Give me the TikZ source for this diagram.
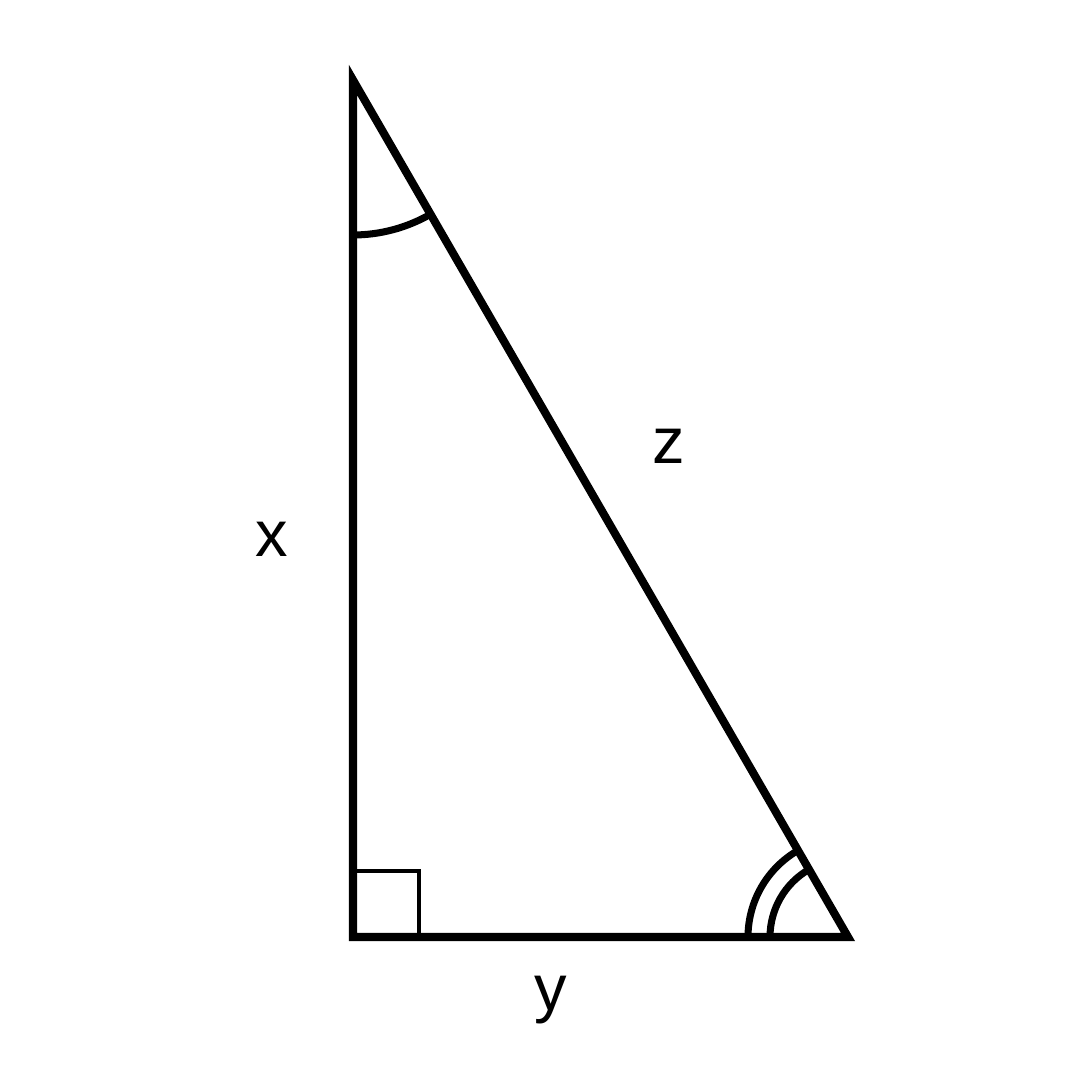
\documentclass[tikz,border=0pt]{standalone}
\usepackage{fontspec}
\setmainfont{Liberation Sans}
\usetikzlibrary{
    calc,
    positioning
}
\tikzset{
    every picture/.style = {
        line join = miter
    },
    side/.style = {
        line width = 2.3pt
    },
    anglemark/.style = {
        line width = 2pt
    },
    rightmark/.style = {
        line width = 1pt
    },
    every node/.style = {
        inner sep = 0pt,
        outer sep = 0pt,
        anchor = base
    }
}

\begin{document}
\begin{tikzpicture}[font = \fontsize{18.5}{20}\selectfont]
                \useasboundingbox (0, 0) rectangle (10.8, 10.8);
                \coordinate (top) at (3.53, 10.00);
                \coordinate (corner) at (3.53, 1.43);
                \coordinate (tip) at (8.48, 1.43);
                \draw[side] (top) -- (corner) -- (tip) -- cycle;
                % angle marks
                \draw[rightmark] ($(corner) + (0, 0.66)$) -| ($(corner) + (0.66, 0)$);
                \draw[anglemark] ($(top) + (0, -1.55)$) arc[start angle = 270, end angle = 300, radius = 1.55];
                \draw[anglemark] ($(tip) + (-1.0, 0)$) arc[start angle = 180, end angle = 120, radius = 1.0];
                \draw[anglemark] ($(tip) + (-0.78, 0)$) arc[start angle = 180, end angle = 120, radius = 0.78];
                % side labels
                \node (x) at (2.72, 5.23) {x};
                \node (y) at (5.51, 0.69) {y};
                \node (z) at (6.69, 6.16) {z};
            \end{tikzpicture}
\end{document}
